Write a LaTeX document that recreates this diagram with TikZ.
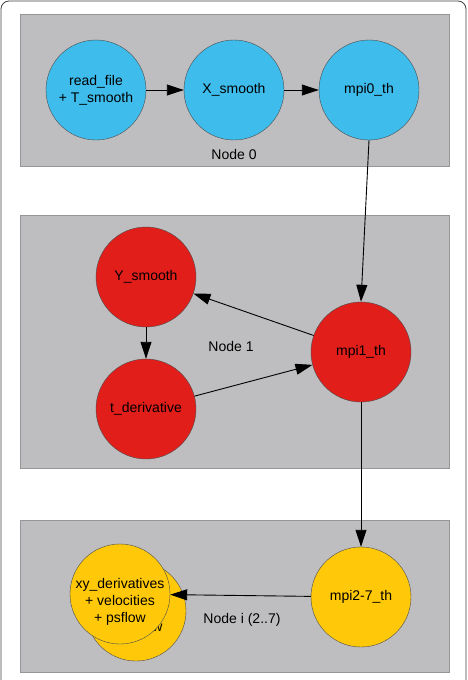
\documentclass[tikz,border=0pt]{standalone}
\usepackage{fontspec}
\setmainfont{Liberation Sans}
\usepackage{xcolor}
\usepackage{tikz}
\usetikzlibrary{shapes.geometric, arrows.meta, positioning, calc}
\definecolor{boxgray}{RGB}{190, 190, 192}
\definecolor{boxline}{RGB}{150, 150, 152}
\definecolor{threadblue}{RGB}{62, 188, 236}
\definecolor{threadred}{RGB}{226, 30, 27}
\definecolor{threadyellow}{RGB}{255, 201, 10}

\begin{document}
\begin{tikzpicture}[
    x=1pt, y=-1pt,
    group/.style={draw=boxline, fill=boxgray, line width=0.8pt},
    thread/.style={circle, draw=black!70, line width=0.4pt, minimum size=100pt, inner sep=0pt, align=center, font=\fontsize{14}{17}\selectfont},
    grouplabel/.style={font=\fontsize{14}{17}\selectfont},
    arrow/.style={-{Triangle[length=17pt, width=11pt]}, line width=0.9pt, color=black}
]
    \useasboundingbox (0,0) rectangle (468,680);
    \clip (0,0) rectangle (468,680);
    \draw[rounded corners=8pt, black!75, line width=0.8pt] (1,1) rectangle (466,720);

    % Groups
    \draw[group] (20,14) rectangle (449,166);
    \draw[group] (20,215) rectangle (449,468);
    \draw[group] (20,520) rectangle (449,672);

    % Node 0
    \node[thread, fill=threadblue] (readfile) at (96,90) {read\_file\\+ T\_smooth};
    \node[thread, fill=threadblue] (xsmooth) at (234,90) {X\_smooth};
    \node[thread, fill=threadblue] (mpi0) at (369,90) {mpi0\_th};
    \node[grouplabel] (label0) at (234,154) {Node 0};

    % Node 1
    \node[thread, fill=threadred] (ysmooth) at (146,277) {Y\_smooth};
    \node[thread, fill=threadred] (tderiv) at (146,409) {t\_derivative};
    \node[thread, fill=threadred] (mpi1) at (361,352) {mpi1\_th};
    \node[grouplabel] (label1) at (231,346) {Node 1};

    % Node i (stacked threads)
    \node[thread, fill=threadyellow] (xyback) at (136,611) {};
    \node[grouplabel, anchor=east] (xybacktext) at (166,628) {+ psflow};
    \node[thread, fill=threadyellow] (xyderiv) at (120,594) {};
    \node[thread, draw=none, minimum size=0pt] (xyderivtext) at (120,602) {xy\_derivatives\\+ velocities\\+ psflow};
    \node[thread, fill=threadyellow] (mpi27) at (361,597) {mpi2-7\_th};
    \node[grouplabel] (labeli) at (242,620) {Node i (2..7)};

    % Connections
    \draw[arrow] (readfile) -- (xsmooth);
    \draw[arrow] (xsmooth) -- (mpi0);
    \draw[arrow] (mpi0.south) -- (mpi1.north);
    \draw[arrow] (mpi1) -- (ysmooth);
    \draw[arrow] (ysmooth) -- (tderiv);
    \draw[arrow] (tderiv) -- (mpi1);
    \draw[arrow] (mpi1) -- (mpi27);
    \draw[arrow] (mpi27) -- (xyderiv);
\end{tikzpicture}
\end{document}
